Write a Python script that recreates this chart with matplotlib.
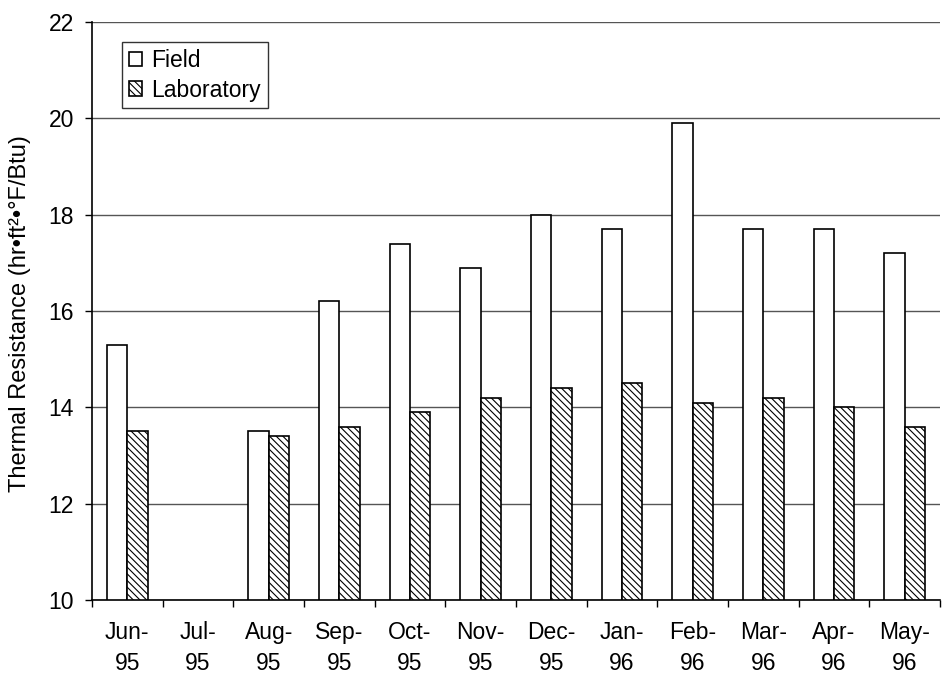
import matplotlib
matplotlib.use("Agg")
import matplotlib.pyplot as plt
import numpy as np

months = ["Jun-\n95", "Jul-\n95", "Aug-\n95", "Sep-\n95", "Oct-\n95", "Nov-\n95",
          "Dec-\n95", "Jan-\n96", "Feb-\n96", "Mar-\n96", "Apr-\n96", "May-\n96"]
field = [15.3, np.nan, 13.5, 16.2, 17.4, 16.9, 18.0, 17.7, 19.9, 17.7, 17.7, 17.2]
laboratory = [13.5, np.nan, 13.4, 13.6, 13.9, 14.2, 14.4, 14.5, 14.1, 14.2, 14.0, 13.6]

plt.rcParams['font.family'] = ['Liberation Sans', 'DejaVu Sans']
plt.rcParams['hatch.linewidth'] = 0.8

fig = plt.figure(figsize=(9.48, 6.77), dpi=100)
ax = fig.add_axes([92/948, 77/677, 848/948, 578/677])

x = np.arange(len(months))
w = 0.29
ax.bar(x - w/2, field, width=w, color='white', edgecolor='black', linewidth=1.2,
       label='Field', zorder=3)
ax.bar(x + w/2, laboratory, width=w, color='white', edgecolor='black', linewidth=1.2,
       hatch='\\\\\\\\\\', label='Laboratory', zorder=3)

ax.set_xlim(-0.5, len(months) - 0.5)
ax.set_ylim(10, 22)
ax.set_yticks(np.arange(10, 23, 2))
ax.set_xticks(x)
ax.set_xticklabels(months, fontsize=16.5, linespacing=1.45)
ax.set_xticks(np.arange(-0.5, len(months), 1), minor=True)
ax.tick_params(axis='x', which='major', length=0, pad=15)
ax.tick_params(axis='x', which='minor', length=5, width=1, direction='out')
ax.tick_params(axis='y', length=5, width=1, direction='out', labelsize=16.5, pad=8)

ax.yaxis.grid(True, color='#555555', linewidth=1)
ax.set_axisbelow(True)
for s in ['top', 'right']:
    ax.spines[s].set_visible(False)
for s in ['left', 'bottom']:
    ax.spines[s].set_linewidth(1.2)
    ax.spines[s].set_zorder(4)

ax.set_ylabel('Thermal Resistance (hr•ft²•°F/Btu)', fontsize=17)
ax.yaxis.set_label_coords(-0.072, 0.495)

leg = ax.legend(loc='upper left', bbox_to_anchor=(0.035, 0.965), borderaxespad=0,
                fontsize=16.5, fancybox=False, frameon=True, edgecolor='black',
                handlelength=0.6, handleheight=0.6, handletextpad=0.4,
                borderpad=0.3, labelspacing=0.28)
leg.get_frame().set_linewidth(1.0)

fig.savefig('out.png', dpi=100)
